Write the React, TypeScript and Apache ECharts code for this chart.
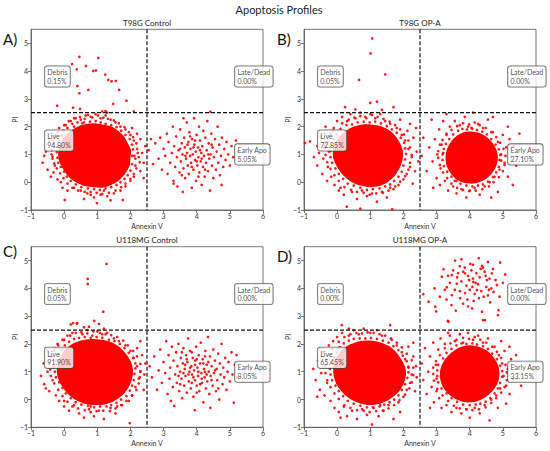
import React, { useEffect, useRef } from "react";
import * as echarts from "echarts";

// ---------- data ----------
const MAIN_TITLE = "Apoptosis Profiles";
const PANEL_TITLES = ["T98G Control", "T98G OP-A", "U118MG Control", "U118MG OP-A"];
const PANEL_LETTERS = ["A)", "B)", "C)", "D)"];
const X_NAME = "Annexin V";
const Y_NAME = "PI";
const X_TICKS = [-1, 0, 1, 2, 3, 4, 5, 6];
const Y_TICKS = [-1, 0, 1, 2, 3, 4, 5];
const X_RANGE = [-1, 6];
const Y_RANGE = [-1, 5.5];
const GATE = [2.5, 2.5];
const QUAD_NAMES = ["Debris", "Late/Dead", "Live", "Early Apo"];
const PCT_A = ["0.15%", "0.00%", "94.80%", "5.05%"];
const PCT_B = ["0.05%", "0.00%", "72.85%", "27.10%"];
const PCT_C = ["0.05%", "0.00%", "91.90%", "8.05%"];
const PCT_D = ["0.00%", "0.00%", "65.45%", "33.15%"];

// dense (saturated) cores of the clusters, outline in data units
const LIVE_CORE_A = [[0.92,2.12],[1.15,2.08],[1.4,2.02],[1.6,1.88],[1.8,1.66],[1.92,1.4],[2.02,1.15],[2.0,0.88],[1.98,0.6],[1.85,0.32],[1.65,0.06],[1.42,-0.1],[1.15,-0.2],[0.9,-0.18],[0.62,-0.14],[0.38,-0.02],[0.15,0.18],[-0.02,0.45],[-0.15,0.75],[-0.18,1.05],[-0.12,1.35],[0.0,1.62],[0.2,1.85],[0.45,2.02],[0.7,2.1]];
const LIVE_CORE_B = [[1.0,2.08],[1.25,2.04],[1.5,1.92],[1.72,1.72],[1.88,1.45],[1.98,1.15],[1.98,0.85],[1.9,0.55],[1.75,0.25],[1.52,0.0],[1.25,-0.15],[0.98,-0.18],[0.7,-0.12],[0.42,0.02],[0.18,0.25],[0.0,0.55],[-0.12,0.88],[-0.12,1.2],[-0.02,1.5],[0.18,1.78],[0.45,1.98],[0.72,2.07]];
const EARLY_CORE_B = [[4.05,1.82],[4.3,1.77],[4.52,1.62],[4.7,1.4],[4.82,1.12],[4.85,0.82],[4.78,0.52],[4.62,0.25],[4.4,0.05],[4.12,-0.05],[3.85,-0.03],[3.6,0.1],[3.42,0.32],[3.3,0.6],[3.27,0.9],[3.32,1.2],[3.45,1.48],[3.62,1.68],[3.82,1.8]];
const LIVE_CORE_C = [[0.92,2.18],[1.18,2.14],[1.45,2.05],[1.68,1.88],[1.88,1.62],[2.02,1.35],[2.08,1.05],[2.05,0.75],[1.95,0.45],[1.78,0.18],[1.52,-0.05],[1.22,-0.18],[0.92,-0.2],[0.62,-0.15],[0.35,-0.02],[0.1,0.22],[-0.08,0.5],[-0.2,0.82],[-0.22,1.15],[-0.15,1.45],[0.0,1.75],[0.22,1.98],[0.5,2.12],[0.72,2.17]];
const LIVE_CORE_D = [[1.0,2.12],[1.26,2.07],[1.52,1.95],[1.75,1.75],[1.92,1.48],[2.05,1.18],[2.08,0.88],[2.0,0.55],[1.85,0.27],[1.6,0.02],[1.32,-0.14],[1.02,-0.2],[0.72,-0.15],[0.45,-0.02],[0.2,0.2],[0.0,0.5],[-0.1,0.82],[-0.12,1.15],[-0.05,1.45],[0.12,1.75],[0.38,1.98],[0.68,2.1]];
const EARLY_CORE_D = [[4.0,1.95],[4.28,1.9],[4.52,1.76],[4.72,1.52],[4.86,1.22],[4.9,0.9],[4.84,0.58],[4.68,0.3],[4.45,0.06],[4.18,-0.08],[3.88,-0.1],[3.6,0.0],[3.36,0.2],[3.18,0.48],[3.1,0.8],[3.12,1.12],[3.24,1.42],[3.44,1.68],[3.7,1.88]];

// events hugging the dense cores
const BAND_A_LIVE = [[0.0,2.05],[0.1,1.95],[0.14,2.2],[0.25,2.1],[0.3,2.3],[0.4,2.15],[0.48,2.35],[0.55,2.12],[0.62,2.28],[0.72,2.42],[0.78,2.18],[0.85,2.33],[0.95,2.2],[1.02,2.4],[1.1,2.15],[1.18,2.32],[1.25,2.1],[1.32,2.28],[1.42,2.05],[1.5,2.22],[1.58,1.98],[1.65,2.12],[1.72,1.85],[1.82,1.98],[1.85,1.7],[1.95,1.8],[1.98,1.55],[2.08,1.62],[2.05,1.35],[2.18,1.4],[2.08,1.18],[2.22,1.05],[2.05,0.95],[2.15,0.85],[2.28,0.72],[2.05,0.65],[2.18,0.5],[2.0,0.42],[2.1,0.3],[1.92,0.25],[2.0,0.12],[1.82,0.12],[1.85,-0.05],[1.7,0.0],[1.72,-0.18],[1.58,-0.1],[1.55,-0.3],[1.42,-0.18],[1.35,-0.38],[1.25,-0.22],[1.15,-0.42],[1.08,-0.28],[0.98,-0.38],[0.9,-0.25],[0.8,-0.45],[0.72,-0.22],[0.62,-0.35],[0.52,-0.18],[0.42,-0.3],[0.35,-0.08],[0.25,-0.2],[0.2,0.05],[0.1,-0.05],[0.08,0.2],[-0.02,0.15],[0.0,0.38],[-0.12,0.32],[-0.1,0.55],[-0.22,0.5],[-0.18,0.7],[-0.3,0.68],[-0.2,0.88],[-0.35,0.92],[-0.22,1.08],[-0.38,1.15],[-0.2,1.28],[-0.32,1.38],[-0.15,1.5],[-0.28,1.6],[-0.08,1.68],[-0.2,1.8],[-0.02,1.85]];
const BAND_B_LIVE = [[0.1,1.92],[0.15,2.12],[0.28,2.05],[0.35,2.25],[0.45,2.08],[0.52,2.32],[0.62,2.15],[0.7,2.38],[0.8,2.18],[0.88,2.3],[0.98,2.15],[1.05,2.42],[1.15,2.18],[1.22,2.35],[1.32,2.12],[1.4,2.28],[1.5,2.02],[1.58,2.18],[1.65,1.9],[1.75,2.05],[1.8,1.78],[1.9,1.9],[1.92,1.6],[2.02,1.72],[2.02,1.42],[2.15,1.5],[2.05,1.22],[2.2,1.25],[2.08,1.02],[2.25,0.98],[2.05,0.82],[2.2,0.7],[2.0,0.6],[2.15,0.45],[1.95,0.38],[2.05,0.22],[1.85,0.2],[1.9,0.02],[1.72,0.05],[1.75,-0.15],[1.6,-0.08],[1.55,-0.3],[1.45,-0.15],[1.38,-0.38],[1.28,-0.22],[1.18,-0.4],[1.08,-0.25],[0.98,-0.45],[0.9,-0.28],[0.8,-0.38],[0.7,-0.2],[0.6,-0.35],[0.5,-0.12],[0.42,-0.28],[0.32,-0.05],[0.22,-0.18],[0.18,0.12],[0.05,0.05],[0.05,0.3],[-0.08,0.25],[-0.05,0.5],[-0.2,0.48],[-0.15,0.7],[-0.3,0.72],[-0.2,0.9],[-0.35,0.98],[-0.2,1.12],[-0.38,1.22],[-0.18,1.35],[-0.3,1.45],[-0.1,1.55],[-0.25,1.65],[-0.02,1.72],[-0.12,1.85]];
const BAND_B_EARLY = [[3.38,1.55],[3.3,1.7],[3.5,1.72],[3.45,1.88],[3.65,1.85],[3.62,2.02],[3.78,1.92],[3.8,2.12],[3.92,1.9],[3.98,2.08],[4.08,1.92],[4.15,2.15],[4.22,1.88],[4.3,2.05],[4.38,1.82],[4.48,1.95],[4.52,1.72],[4.65,1.8],[4.65,1.55],[4.8,1.62],[4.78,1.35],[4.92,1.42],[4.88,1.18],[5.02,1.2],[4.92,0.98],[5.08,0.95],[4.95,0.78],[5.05,0.62],[4.88,0.55],[5.0,0.4],[4.8,0.35],[4.88,0.18],[4.7,0.18],[4.72,0.0],[4.55,0.02],[4.58,-0.15],[4.4,-0.08],[4.38,-0.25],[4.25,-0.12],[4.18,-0.3],[4.08,-0.15],[3.98,-0.32],[3.9,-0.12],[3.8,-0.28],[3.72,-0.05],[3.62,-0.2],[3.55,0.05],[3.45,-0.05],[3.45,0.2],[3.32,0.15],[3.32,0.38],[3.2,0.35],[3.22,0.58],[3.1,0.62],[3.18,0.8],[3.05,0.88],[3.18,1.0],[3.05,1.12],[3.22,1.2],[3.1,1.35],[3.28,1.38],[3.18,1.52]];
const BAND_C_LIVE = [[0.02,1.95],[0.0,2.15],[0.15,2.08],[0.18,2.3],[0.3,2.18],[0.35,2.4],[0.45,2.22],[0.52,2.42],[0.62,2.25],[0.7,2.38],[0.8,2.22],[0.88,2.45],[0.98,2.25],[1.08,2.4],[1.15,2.22],[1.25,2.35],[1.35,2.15],[1.42,2.32],[1.52,2.1],[1.6,2.25],[1.68,2.0],[1.78,2.12],[1.82,1.85],[1.92,1.95],[1.95,1.68],[2.08,1.75],[2.08,1.5],[2.2,1.55],[2.15,1.3],[2.3,1.28],[2.15,1.12],[2.3,1.02],[2.12,0.92],[2.28,0.8],[2.1,0.7],[2.25,0.58],[2.05,0.5],[2.18,0.35],[1.98,0.32],[2.05,0.15],[1.88,0.12],[1.88,-0.05],[1.72,0.0],[1.72,-0.2],[1.58,-0.12],[1.55,-0.32],[1.42,-0.2],[1.38,-0.42],[1.28,-0.25],[1.18,-0.4],[1.08,-0.25],[0.98,-0.42],[0.9,-0.28],[0.8,-0.45],[0.72,-0.22],[0.62,-0.38],[0.52,-0.18],[0.42,-0.32],[0.35,-0.1],[0.25,-0.25],[0.2,0.05],[0.1,-0.08],[0.05,0.22],[-0.05,0.12],[-0.05,0.42],[-0.18,0.35],[-0.15,0.62],[-0.3,0.58],[-0.25,0.8],[-0.4,0.85],[-0.28,1.0],[-0.42,1.08],[-0.3,1.22],[-0.45,1.32],[-0.25,1.42],[-0.38,1.55],[-0.15,1.62],[-0.3,1.75],[-0.08,1.8],[-0.18,1.95]];
const BAND_D_LIVE = [[0.08,1.88],[0.05,2.08],[0.2,2.02],[0.22,2.25],[0.35,2.12],[0.4,2.35],[0.5,2.18],[0.58,2.4],[0.68,2.2],[0.75,2.38],[0.85,2.2],[0.92,2.42],[1.02,2.22],[1.1,2.4],[1.2,2.18],[1.28,2.35],[1.38,2.12],[1.45,2.3],[1.55,2.05],[1.62,2.2],[1.7,1.92],[1.8,2.05],[1.85,1.78],[1.95,1.88],[1.98,1.58],[2.1,1.65],[2.1,1.38],[2.25,1.42],[2.15,1.18],[2.3,1.15],[2.15,0.98],[2.3,0.88],[2.12,0.78],[2.25,0.62],[2.05,0.55],[2.18,0.4],[1.95,0.35],[2.05,0.18],[1.85,0.15],[1.88,-0.02],[1.72,0.0],[1.72,-0.2],[1.58,-0.1],[1.55,-0.32],[1.42,-0.18],[1.38,-0.4],[1.28,-0.25],[1.18,-0.42],[1.08,-0.28],[0.98,-0.45],[0.9,-0.28],[0.8,-0.4],[0.7,-0.22],[0.6,-0.38],[0.5,-0.15],[0.4,-0.3],[0.32,-0.05],[0.22,-0.2],[0.18,0.12],[0.05,0.02],[0.05,0.3],[-0.08,0.22],[-0.05,0.5],[-0.2,0.45],[-0.15,0.7],[-0.3,0.7],[-0.2,0.9],[-0.35,0.95],[-0.22,1.1],[-0.38,1.2],[-0.18,1.32],[-0.32,1.42],[-0.1,1.52],[-0.25,1.62],[-0.02,1.7],[-0.15,1.82]];
const BAND_D_EARLY = [[3.2,1.48],[3.1,1.6],[3.3,1.68],[3.25,1.85],[3.45,1.82],[3.42,2.02],[3.6,1.95],[3.6,2.15],[3.75,2.02],[3.8,2.22],[3.9,2.0],[3.98,2.18],[4.08,2.02],[4.15,2.25],[4.22,1.98],[4.32,2.15],[4.4,1.92],[4.5,2.05],[4.55,1.82],[4.68,1.9],[4.68,1.65],[4.82,1.72],[4.82,1.45],[4.95,1.5],[4.92,1.22],[5.08,1.25],[4.98,1.02],[5.12,0.98],[4.98,0.82],[5.12,0.7],[4.92,0.6],[5.05,0.45],[4.85,0.4],[4.95,0.25],[4.75,0.22],[4.8,0.05],[4.62,0.05],[4.65,-0.12],[4.48,-0.08],[4.48,-0.28],[4.32,-0.15],[4.28,-0.35],[4.18,-0.18],[4.08,-0.38],[4.0,-0.2],[3.9,-0.35],[3.8,-0.18],[3.7,-0.32],[3.62,-0.08],[3.52,-0.22],[3.45,0.05],[3.35,-0.05],[3.3,0.22],[3.18,0.15],[3.15,0.4],[3.02,0.38],[3.05,0.62],[2.92,0.68],[3.02,0.85],[2.9,0.92],[3.02,1.05],[2.9,1.15],[3.05,1.25],[2.98,1.38]];

// scattered events
const LIVE_DOTS_A = [[-0.65,0.7],[-0.55,1.1],[-0.5,0.45],[-0.45,1.5],[-0.4,0.2],[-0.35,0.85],[-0.3,1.25],[-0.28,0.6],[-0.25,1.7],[-0.2,0.1],[-0.15,1.95],[-0.38,1.0],[-0.6,0.95],[-0.1,0.0],[-0.05,-0.2],[-0.32,0.35],[0.05,2.05],[0.2,2.2],[0.35,2.3],[0.5,2.25],[0.65,2.4],[0.8,2.35],[0.95,2.45],[1.1,2.3],[1.25,2.4],[1.4,2.25],[1.55,2.15],[1.7,2.0],[1.3,2.5],[0.6,2.15],[1.85,1.9],[0.3,2.0],[2.0,1.7],[2.1,1.5],[2.2,1.2],[2.25,0.9],[2.15,0.6],[2.3,0.4],[2.1,0.2],[2.35,1.05],[2.4,0.7],[2.45,1.3],[2.2,1.75],[2.05,1.95],[2.3,1.55],[2.12,0.95],[2.0,0.05],[2.4,0.15],[1.85,-0.15],[1.7,-0.3],[1.5,-0.4],[1.3,-0.5],[1.1,-0.45],[0.9,-0.55],[0.7,-0.4],[0.5,-0.3],[0.3,-0.2],[0.1,-0.3],[0.99,-0.75],[1.4,-0.65],[0.6,-0.6],[0.02,-0.64],[1.2,-0.3],[0.8,-0.35],[1.77,-0.64]];
const DEBRIS_A = [[0.46,4.51],[1.03,4.47],[0.24,4.25],[0.66,4.18],[0.38,4.06],[0.88,4.0],[0.96,4.02],[1.24,3.87],[1.33,3.68],[1.43,3.63],[1.56,3.64],[0.4,3.46],[0.73,3.32],[0.46,3.2],[1.66,3.32],[1.88,2.93],[-0.21,2.75],[0.27,2.68],[0.48,2.64],[1.48,2.82],[1.15,2.55],[1.25,2.56],[2.1,2.55]];
const EARLY_DOTS_A = [[2.55,1.15],[2.62,1.55],[2.68,0.65],[2.75,1.4],[2.85,0.85],[2.9,1.6],[2.95,0.45],[3.0,1.2],[3.05,0.95],[3.1,1.75],[3.12,0.3],[3.15,1.45],[3.2,0.7],[3.25,1.05],[3.28,2.0],[3.3,0.05],[3.32,1.3],[3.35,0.55],[3.38,1.65],[3.4,0.9],[3.42,-0.15],[3.45,1.15],[3.48,0.35],[3.5,1.9],[3.52,0.75],[3.55,1.4],[3.57,1.0],[3.58,-0.35],[3.6,0.5],[3.62,1.6],[3.64,1.25],[3.65,0.15],[3.68,0.85],[3.7,2.15],[3.71,1.05],[3.73,0.6],[3.75,1.45],[3.76,0.3],[3.78,1.8],[3.8,0.95],[3.81,1.2],[3.83,0.7],[3.85,-0.2],[3.86,1.55],[3.88,1.0],[3.9,0.45],[3.92,2.3],[3.93,1.35],[3.95,0.8],[3.97,1.1],[3.98,0.05],[4.0,1.7],[4.02,0.6],[4.04,1.25],[4.05,0.9],[4.07,2.0],[4.08,0.35],[4.1,1.5],[4.12,0.75],[4.14,1.05],[4.15,-0.1],[4.17,1.3],[4.19,0.55],[4.2,1.85],[4.22,0.95],[4.24,0.2],[4.26,1.6],[4.28,0.7],[4.3,1.15],[4.32,2.2],[4.34,0.4],[4.36,1.4],[4.38,0.85],[4.4,-0.3],[4.42,1.0],[4.44,1.75],[4.46,0.6],[4.48,1.25],[4.5,0.15],[4.52,0.9],[4.55,1.55],[4.58,0.45],[4.6,1.1],[4.63,2.0],[4.65,0.7],[4.68,1.35],[4.7,0.25],[4.73,0.95],[4.76,1.6],[4.8,0.55],[4.83,1.2],[4.87,0.8],[4.9,1.45],[4.95,1.0],[5.0,0.6],[5.05,1.3],[5.1,0.9],[5.18,1.5],[5.25,1.1],[3.6,2.3],[4.41,2.54],[3.3,-0.05],[4.75,-0.1],[3.72,1.35],[3.95,1.5],[4.1,1.15],[3.85,0.55],[4.25,0.45],[3.5,1.2],[4.35,1.0],[3.66,0.95],[4.0,0.75],[3.9,1.25],[4.15,0.85],[3.8,1.65],[4.45,1.35],[3.55,0.25],[4.05,0.2]];

const LIVE_DOTS_B = [[-0.97,1.41],[-0.82,1.47],[-0.6,0.6],[-0.55,1.05],[-0.5,1.65],[-0.45,0.3],[-0.42,0.85],[-0.38,1.3],[-0.35,2.0],[-0.3,0.05],[-0.28,0.55],[-0.25,1.1],[-0.2,1.75],[-0.18,0.2],[-0.1,1.95],[-0.08,-0.1],[0.0,2.2],[0.05,-0.3],[0.15,2.35],[0.2,-0.45],[0.3,2.2],[0.29,-0.88],[0.4,2.45],[0.45,-0.35],[0.55,2.3],[0.6,-0.6],[0.7,2.5],[0.7,-0.95],[0.75,-0.3],[0.85,2.35],[0.9,-0.5],[1.0,2.45],[1.05,-0.4],[1.15,2.3],[1.2,-0.7],[1.3,2.45],[1.35,-0.35],[1.45,2.2],[1.5,-0.55],[1.6,2.1],[1.66,-0.97],[1.7,-0.25],[1.8,1.95],[1.85,-0.1],[1.95,1.7],[2.0,0.1],[2.05,1.5],[2.1,0.3],[2.15,1.2],[2.2,0.55],[2.25,0.9],[2.3,1.6],[2.35,0.4],[2.4,1.1],[2.45,0.75],[2.12,1.85],[2.28,-0.05],[2.38,1.95],[2.2,2.1],[1.9,2.25],[-0.6,1.3],[-0.7,0.9],[0.1,-0.2],[1.6,-0.2]];
const DEBRIS_B = [[1.06,5.17],[1.01,4.63],[1.45,3.88],[0.66,3.68],[1.0,2.85],[1.2,2.9],[0.24,2.7],[1.7,2.7],[0.55,2.62],[1.35,2.6]];
const EARLY_DOTS_B = [[2.55,0.95],[2.6,1.6],[2.7,0.4],[2.78,1.25],[2.85,2.25],[2.88,0.75],[2.95,1.55],[3.0,0.15],[3.02,1.0],[3.08,1.9],[3.1,-0.1],[3.12,0.5],[3.15,1.35],[3.2,2.2],[3.25,0.05],[3.3,1.75],[3.35,-0.3],[3.4,2.0],[3.5,-0.15],[3.55,2.2],[3.6,-0.4],[3.7,2.05],[3.75,-0.25],[3.85,2.35],[3.9,-0.55],[3.95,2.0],[4.0,-0.3],[4.1,2.5],[4.15,-0.2],[4.25,2.1],[4.3,-0.45],[4.4,1.95],[4.45,-0.15],[4.55,2.25],[4.6,0.0],[4.7,1.8],[4.75,0.2],[4.85,1.45],[4.9,0.45],[4.95,1.0],[5.0,1.7],[5.05,0.7],[5.1,1.25],[5.15,0.2],[5.2,1.55],[5.25,0.9],[5.32,1.3],[5.4,0.6],[5.5,1.75],[5.3,-0.1],[4.85,-0.35],[3.3,2.45],[4.7,2.35],[2.9,-0.2],[5.15,2.0],[4.65,-0.55],[3.2,1.05],[4.9,0.8],[4.05,1.95],[3.6,0.05]];

const LIVE_DOTS_C = [[-0.7,0.85],[-0.62,1.3],[-0.55,0.4],[-0.5,1.0],[-0.45,0.3],[-0.4,1.55],[-0.35,0.7],[-0.32,1.15],[-0.28,1.85],[-0.25,0.15],[-0.2,2.0],[-0.15,-0.05],[-0.05,2.15],[0.0,-0.25],[0.1,2.3],[0.15,-0.4],[0.25,2.4],[0.3,-0.2],[0.4,2.75],[0.45,-0.5],[0.55,2.35],[0.6,-0.65],[0.7,2.5],[0.75,-0.35],[0.85,2.3],[0.9,-0.6],[1.0,2.45],[1.05,-0.4],[1.15,2.35],[1.2,-0.7],[1.3,2.4],[1.4,-0.3],[1.5,2.2],[1.55,-0.5],[1.65,2.1],[1.75,-0.2],[1.85,1.95],[1.95,-0.05],[2.0,1.75],[2.05,0.15],[2.1,1.5],[2.15,0.45],[2.2,1.2],[2.25,0.75],[2.3,1.0],[2.35,1.6],[2.4,0.35],[2.45,1.3],[2.42,0.9],[2.2,1.85],[1.98,-0.85],[-0.6,0.55],[0.2,2.7],[2.3,2.1],[0.8,-0.25],[1.6,-0.25],[0.0,-0.05],[-0.5,1.75]];
const DEBRIS_C = [[1.28,4.88],[0.71,4.34],[0.71,4.16],[1.18,3.16],[0.27,2.75],[0.38,2.73],[0.91,2.83],[1.05,2.72],[1.2,2.55],[0.6,2.6],[0.75,2.62]];
const EARLY_DOTS_C = [[2.58,1.2],[2.65,0.8],[2.72,1.55],[2.8,0.35],[2.85,1.05],[2.9,1.8],[2.95,0.6],[3.0,1.35],[3.05,0.95],[3.08,2.1],[3.12,0.2],[3.15,1.6],[3.18,0.75],[3.2,1.15],[3.22,-0.05],[3.25,1.9],[3.28,0.45],[3.3,1.4],[3.32,-0.23],[3.35,0.9],[3.38,1.7],[3.4,0.6],[3.42,1.2],[3.45,2.0],[3.47,0.3],[3.5,1.0],[3.52,1.5],[3.54,0.75],[3.56,0.05],[3.58,1.3],[3.6,1.85],[3.62,0.5],[3.64,1.1],[3.66,0.85],[3.68,1.6],[3.7,0.25],[3.72,1.35],[3.74,2.2],[3.76,0.65],[3.78,1.0],[3.8,1.75],[3.82,0.4],[3.84,1.2],[3.86,0.9],[3.88,1.5],[3.9,0.1],[3.92,1.05],[3.94,-0.38],[3.95,0.7],[3.96,1.4],[3.98,1.9],[4.0,0.5],[4.02,1.15],[4.04,0.85],[4.06,1.6],[4.08,0.3],[4.1,1.3],[4.12,2.05],[4.14,0.95],[4.16,0.6],[4.18,1.45],[4.2,-0.1],[4.22,1.1],[4.24,0.8],[4.26,1.75],[4.28,0.4],[4.3,1.25],[4.32,0.65],[4.34,2.25],[4.36,1.0],[4.38,0.2],[4.4,1.55],[4.41,-0.3],[4.42,0.85],[4.45,1.2],[4.48,0.5],[4.5,1.8],[4.52,0.95],[4.55,1.4],[4.58,0.3],[4.6,1.1],[4.62,0.7],[4.65,1.65],[4.68,0.0],[4.7,1.3],[4.72,0.9],[4.75,2.0],[4.78,0.55],[4.8,1.15],[4.83,0.8],[4.86,1.5],[4.9,0.35],[4.93,1.0],[4.96,1.35],[5.0,0.65],[5.05,1.7],[5.08,0.9],[5.12,-0.11],[5.15,1.25],[5.2,1.6],[5.22,0.8],[3.5,0.55],[3.65,1.25],[3.75,0.9],[3.85,0.6],[3.95,1.25],[4.05,1.0],[4.15,0.75],[4.25,1.0],[4.35,1.35],[3.7,1.45],[3.9,0.8],[4.1,0.55],[4.3,0.9],[3.6,0.95],[4.0,1.45],[4.2,1.3],[3.8,1.15],[4.45,0.7],[3.55,1.7],[4.55,1.05],[3.85,1.7],[4.65,0.4],[3.45,0.85],[4.0,0.25],[4.25,1.55]];

const LIVE_DOTS_D = [[-0.72,1.1],[-0.65,0.7],[-0.58,1.4],[-0.52,0.35],[-0.48,0.95],[-0.42,1.7],[-0.38,0.15],[-0.33,1.25],[-0.3,0.6],[-0.25,1.95],[-0.2,-0.05],[-0.12,2.1],[-0.08,-0.3],[0.0,2.25],[0.05,-0.45],[0.15,2.4],[0.2,-0.25],[0.14,2.68],[0.3,-0.6],[0.35,2.3],[0.45,-0.4],[0.5,2.5],[0.6,-0.7],[0.65,2.35],[0.75,-0.35],[0.8,2.55],[0.9,-0.55],[1.0,2.4],[1.05,-0.9],[1.1,-0.3],[1.2,2.5],[1.25,-0.6],[1.35,2.3],[1.4,-0.4],[1.6,2.68],[1.55,-0.2],[1.65,2.15],[1.7,-0.7],[1.8,1.95],[1.85,-0.1],[1.95,1.7],[2.0,0.1],[2.05,1.45],[2.1,0.35],[2.15,1.15],[2.2,0.6],[2.25,0.9],[2.3,1.55],[2.35,0.3],[2.38,1.2],[2.4,0.8],[2.15,1.9],[2.3,2.05],[1.9,-0.45],[-0.6,0.1],[0.1,-0.65],[0.35,2.55],[1.3,-0.2]];
const LATE_DOTS_D = [[4.27,5.09],[4.92,4.93],[3.56,5.0],[3.21,4.69],[4.37,4.81],[4.4,4.75],[4.02,4.88],[3.7,4.8],[4.67,4.54],[5.07,4.5],[3.86,4.54],[3.46,4.48],[3.16,4.42],[4.52,4.3],[4.11,4.23],[3.61,4.17],[3.31,4.04],[4.82,4.12],[4.22,3.94],[3.86,3.83],[3.46,3.76],[3.71,3.65],[4.42,3.7],[4.72,3.87],[2.96,3.34],[4.07,3.28],[4.37,3.16],[4.4,2.86],[3.34,2.83],[4.87,3.22],[2.76,3.52],[2.6,3.79],[2.99,3.17],[2.94,4.0],[3.36,2.8],[4.46,2.86],[4.85,3.04],[3.5,4.65],[3.62,4.4],[3.75,4.25],[3.8,4.6],[3.9,4.1],[3.95,4.45],[4.0,3.95],[4.05,4.65],[4.1,4.35],[4.15,3.8],[4.2,4.55],[4.25,4.15],[4.3,4.4],[4.35,3.9],[4.45,4.6],[4.5,4.05],[4.55,3.75],[4.6,4.35],[4.65,4.0],[4.7,4.7],[4.78,4.3],[3.4,4.2],[3.55,3.95],[3.65,4.55],[3.7,3.9],[3.85,4.75],[3.93,3.6],[3.98,4.3],[4.08,4.05],[4.18,4.2],[4.28,3.65],[4.33,4.7],[4.48,4.45],[4.58,3.95],[3.3,3.6],[3.45,3.4],[3.8,3.45],[4.12,3.55],[4.62,3.5],[4.9,3.7],[5.0,4.2],[3.25,3.95],[3.1,3.7],[3.58,3.2],[3.95,3.35],[3.75,5.05],[4.55,4.95],[4.1,4.85],[3.35,4.45]];
const EARLY_DOTS_D = [[2.55,1.3],[2.6,0.7],[2.65,1.85],[2.7,0.2],[2.75,1.0],[2.8,1.55],[2.85,0.45],[2.9,2.05],[2.92,-0.1],[2.98,1.25],[3.0,0.75],[3.05,1.8],[3.08,0.05],[3.12,2.2],[3.15,-0.3],[3.25,2.0],[3.3,-0.2],[3.4,2.3],[3.45,-0.45],[3.55,2.1],[3.6,-0.3],[3.7,2.35],[3.75,-0.5],[3.8,2.05],[3.9,-0.35],[3.95,2.4],[4.0,-0.65],[4.1,2.15],[4.15,-0.3],[4.25,2.3],[4.3,-0.5],[4.4,2.05],[4.45,-0.2],[4.55,2.2],[4.6,-0.75],[4.65,0.0],[4.75,1.9],[4.8,0.15],[4.88,1.6],[4.92,0.4],[4.98,1.3],[5.02,0.85],[5.05,1.75],[5.1,0.5],[5.15,1.1],[5.2,0.2],[5.25,1.45],[5.3,0.75],[5.35,1.2],[5.45,0.95],[5.55,0.5],[5.4,1.6],[5.1,-0.15],[4.95,2.1],[3.2,1.1],[3.0,0.3],[4.85,-0.3],[3.35,2.4],[5.2,1.9],[2.8,-0.3]];

// ---------- assembly ----------
const PANEL_CORES = [[LIVE_CORE_A], [LIVE_CORE_B, EARLY_CORE_B], [LIVE_CORE_C], [LIVE_CORE_D, EARLY_CORE_D]];
const PANEL_DOTS = [
  [...BAND_A_LIVE, ...LIVE_DOTS_A, ...DEBRIS_A, ...EARLY_DOTS_A],
  [...BAND_B_LIVE, ...BAND_B_EARLY, ...LIVE_DOTS_B, ...DEBRIS_B, ...EARLY_DOTS_B],
  [...BAND_C_LIVE, ...LIVE_DOTS_C, ...DEBRIS_C, ...EARLY_DOTS_C],
  [...BAND_D_LIVE, ...BAND_D_EARLY, ...LIVE_DOTS_D, ...LATE_DOTS_D, ...EARLY_DOTS_D],
];
const PANEL_PCTS = [PCT_A, PCT_B, PCT_C, PCT_D];

const FONT = "Lato";
const RED = "#ff0000";
const GRIDS = [
  { left: 31, top: 29.3, width: 232, height: 180.7 },
  { left: 304, top: 29.3, width: 232, height: 180.7 },
  { left: 31, top: 246.7, width: 232, height: 180.6 },
  { left: 304, top: 246.7, width: 232, height: 180.6 },
];
// anchor (left-middle) of each statistic box, in data units
const BOX_ANCHORS = [[-0.6, 3.8], [5.14, 3.8], [-0.6, 1.5], [5.14, 1.0]];

const fmt = (v: number) => (v < 0 ? "\u2212" + Math.abs(v) : String(v));

function buildOption() {
  const xAxis: any[] = [];
  const yAxis: any[] = [];
  const series: any[] = [];
  const graphic: any[] = [];

  graphic.push({
    type: "text", x: 279, y: 9.5, z: 10,
    style: { text: MAIN_TITLE, fontSize: 11, fontFamily: FONT, fill: "#222", align: "center", verticalAlign: "middle" },
  });

  GRIDS.forEach((g, i) => {
    const axisLine = { show: true, onZero: false, lineStyle: { color: "#555", width: 0.8 } };
    const axisTick = { show: true, length: 3, lineStyle: { color: "#555", width: 0.8 } };
    const nameTextStyle = { fontSize: 7, color: "#333", fontFamily: FONT };
    xAxis.push({
      gridIndex: i, type: "value",
      min: X_RANGE[0], max: X_RANGE[1], interval: 1,
      name: X_NAME, nameLocation: "middle", nameGap: 12, nameMoveOverlap: false, nameTextStyle,
      axisLine, axisTick: { ...axisTick, customValues: X_TICKS },
      splitLine: { show: false },
      axisLabel: { fontSize: 7, color: "#333", fontFamily: FONT, margin: 2.5, formatter: fmt, customValues: X_TICKS },
    });
    yAxis.push({
      gridIndex: i, type: "value",
      min: Y_RANGE[0], max: Y_RANGE[1], interval: 1,
      name: Y_NAME, nameLocation: "middle", nameGap: 13, nameMoveOverlap: false, nameTextStyle,
      axisLine, axisTick: { ...axisTick, customValues: Y_TICKS },
      splitLine: { show: false },
      axisLabel: { fontSize: 7, color: "#333", fontFamily: FONT, margin: 3, formatter: fmt, customValues: Y_TICKS },
    });

    // dense cores
    const cores = PANEL_CORES[i];
    series.push({
      type: "custom", xAxisIndex: i, yAxisIndex: i, z: 2, silent: true,
      data: cores.map((c) => c[0]),
      renderItem: (params: any, api: any) => {
        const poly = cores[params.dataIndex];
        return {
          type: "polygon",
          shape: { points: poly.map((p) => api.coord(p)), smooth: 0.25 },
          style: { fill: RED },
        };
      },
    });
    // individual events
    series.push({
      type: "scatter", xAxisIndex: i, yAxisIndex: i, z: 3, silent: true,
      symbol: "circle", symbolSize: 2.7,
      itemStyle: { color: RED, opacity: 0.9 },
      data: PANEL_DOTS[i],
    });
    // quadrant gates
    series.push({
      type: "custom", xAxisIndex: i, yAxisIndex: i, z: 4, silent: true,
      data: [GATE],
      renderItem: (_p: any, api: any) => {
        const t = api.coord([GATE[0], Y_RANGE[1]]);
        const b = api.coord([GATE[0], Y_RANGE[0]]);
        const l = api.coord([X_RANGE[0], GATE[1]]);
        const r = api.coord([X_RANGE[1], GATE[1]]);
        const st = { stroke: "#111", lineWidth: 1.2, lineDash: [4, 2], fill: null };
        return {
          type: "group",
          children: [
            { type: "line", shape: { x1: t[0], y1: t[1], x2: b[0], y2: b[1] }, style: st },
            { type: "line", shape: { x1: l[0], y1: l[1], x2: r[0], y2: r[1] }, style: st },
          ],
        };
      },
    });
    // statistic boxes
    series.push({
      type: "scatter", xAxisIndex: i, yAxisIndex: i, z: 6, silent: true,
      symbol: "circle", symbolSize: 1,
      itemStyle: { color: "rgba(0,0,0,0)" },
      data: QUAD_NAMES.map((n, k) => ({
        value: BOX_ANCHORS[k],
        label: { formatter: n + "\n" + PANEL_PCTS[i][k] },
      })),
      label: {
        show: true, position: "right", distance: 0,
        fontSize: 7, lineHeight: 8.5, color: "#222", fontFamily: FONT, align: "left",
        backgroundColor: "#fff", borderColor: "#444", borderWidth: 0.8, borderRadius: 2.5,
        padding: [2, 2.5, 1.5, 2.5],
      },
    });

    graphic.push({
      type: "text", x: g.left + g.width / 2, y: g.top - 6.5, z: 10,
      style: { text: PANEL_TITLES[i], fontSize: 8, fontFamily: FONT, fill: "#222", align: "center", verticalAlign: "middle" },
    });
    graphic.push({
      type: "text", x: i % 2 === 0 ? 3 : 277, y: i < 2 ? 38.5 : (i === 2 ? 251 : 256), z: 10,
      style: { text: PANEL_LETTERS[i], fontSize: 15, fontFamily: FONT, fill: "#111", align: "left", verticalAlign: "middle" },
    });
  });

  return {
    animation: false,
    backgroundColor: "#fff",
    grid: GRIDS.map((g) => ({ ...g, show: true, borderColor: "#555", borderWidth: 0.8, backgroundColor: "transparent" })),
    xAxis, yAxis, series, graphic,
  };
}

export default function App() {
  const ref = useRef<HTMLDivElement>(null);
  useEffect(() => {
    document.body.style.margin = "0";
    if (!ref.current) return;
    const chart = echarts.init(ref.current, null, { renderer: "svg" });
    chart.setOption(buildOption() as any);
    return () => chart.dispose();
  }, []);
  return <div ref={ref} style={{ width: 550, height: 451 }} />;
}
